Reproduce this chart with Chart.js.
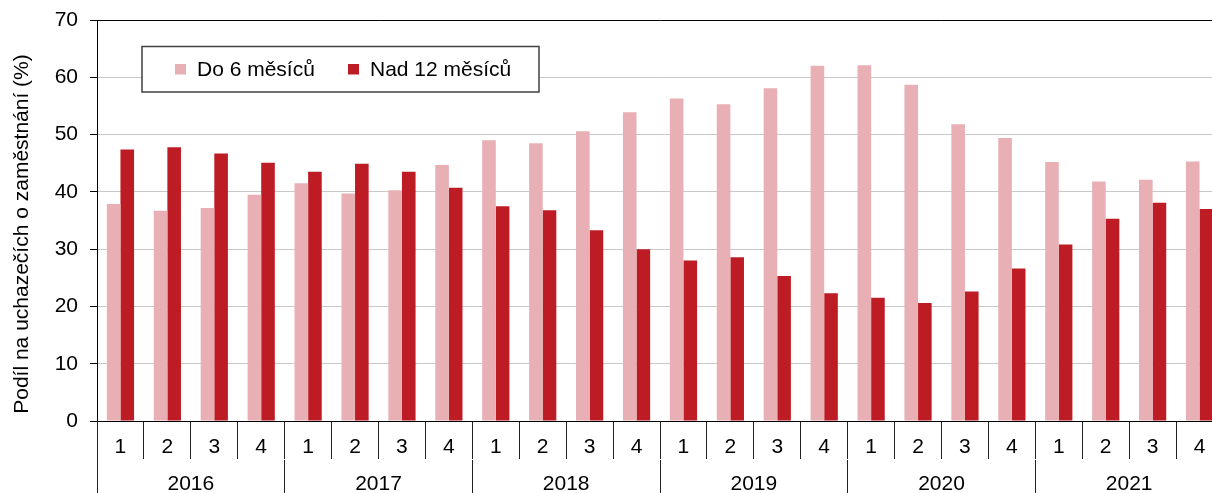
<!DOCTYPE html>
<html>
<head>
<meta charset="utf-8">
<script src="https://cdn.jsdelivr.net/npm/chart.js@4.4.1/dist/chart.umd.min.js"></script>
<style>
    html, body { margin: 0; padding: 0; background: #fff; overflow: hidden; }
    #wrap { position: relative; width: 1224px; height: 499px; }
</style>
</head>
<body>
<div id="wrap"><canvas id="chart"></canvas></div>
<script>
// Data
const years = ["2016", "2017", "2018", "2019", "2020", "2021"];
const quarters = ["1", "2", "3", "4"];
const seriesNames = ["Do 6 měsíců", "Nad 12 měsíců"];
const upTo6 = [37.9, 36.7, 37.2, 39.5, 41.5, 39.7, 40.3, 44.7, 49.0, 48.5, 50.6, 53.9,
               56.3, 55.3, 58.1, 62.0, 62.1, 58.7, 51.8, 49.4, 45.2, 41.8, 42.1, 45.3];
const over12 = [47.4, 47.8, 46.7, 45.1, 43.5, 44.9, 43.5, 40.7, 37.5, 36.8, 33.3, 30.0,
                28.0, 28.6, 25.3, 22.3, 21.5, 20.6, 22.6, 26.6, 30.8, 35.3, 38.1, 37.0];
const yTitle = "Podíl na uchazečích o zaměstnání (%)";

const colors = ["#e8b0b4", "#be1c24"];
const quarterLabels = years.flatMap(() => quarters);
const FONT = "'Liberation Sans', Arial, sans-serif";

Chart.defaults.font.family = FONT;
Chart.defaults.font.size = 21;
Chart.defaults.color = "#000";

// Legend in a framed box inside the plot, plus the y title
const extras = {
    id: "extras",
    afterDraw(chart) {
        const ctx = chart.ctx;
        const area = chart.chartArea;
        ctx.save();

        // left edge line running through both label rows
        ctx.strokeStyle = "#222";
        ctx.lineWidth = 1;
        ctx.beginPath();
        ctx.moveTo(Math.round(area.left) + 0.5, area.bottom);
        ctx.lineTo(Math.round(area.left) + 0.5, chart.height);
        ctx.stroke();

        ctx.strokeStyle = "#404040";
        ctx.lineWidth = 1.5;
        ctx.fillStyle = "#fff";
        ctx.fillRect(142, 46.5, 397, 45.5);
        ctx.strokeRect(142, 46.5, 397, 45.5);
        const items = [{ x: 175, tx: 197 }, { x: 348, tx: 370 }];
        ctx.font = "21px " + FONT;
        ctx.textBaseline = "alphabetic";
        items.forEach((it, i) => {
            ctx.fillStyle = colors[i];
            ctx.fillRect(it.x, 64, 11, 10.5);
            ctx.fillStyle = "#000";
            ctx.fillText(seriesNames[i], it.tx, 75.5);
        });

        // rotated axis title
        ctx.translate(22, 234);
        ctx.rotate(-Math.PI / 2);
        ctx.textAlign = "center";
        ctx.textBaseline = "middle";
        ctx.fillText(yTitle, 0, 0);
        ctx.restore();
    }
};

new Chart(document.getElementById("chart"), {
    type: "bar",
    data: {
        labels: quarterLabels,
        datasets: [
            { label: seriesNames[0], data: upTo6, backgroundColor: colors[0] },
            { label: seriesNames[1], data: over12, backgroundColor: colors[1] }
        ]
    },
    options: {
        responsive: true,
        maintainAspectRatio: false,
        animation: false,
        layout: { padding: { top: 20, right: 1, left: 0, bottom: 0 } },
        datasets: { bar: { categoryPercentage: 0.58, barPercentage: 1.0 } },
        plugins: { legend: { display: false }, tooltip: { enabled: false } },
        scales: {
            x: {
                weight: 0,
                offset: true,
                grid: { offset: true, drawOnChartArea: false, tickLength: 38, color: "#222" },
                border: { color: "#000" },
                ticks: { padding: -24, maxRotation: 0, autoSkip: false },
                afterFit: (s) => { s.height = 38; }
            },
            x2: {
                type: "category",
                position: "bottom",
                weight: 1,
                labels: years,
                offset: true,
                grid: {
                    offset: true,
                    drawOnChartArea: false,
                    tickLength: 42,
                    color: (c) => c.index === 0 ? "rgba(0,0,0,0)" : "#222"
                },
                border: { display: true, color: "rgba(0,0,0,0)" },
                ticks: { padding: -29, maxRotation: 0, autoSkip: false },
                afterFit: (s) => { s.height = 40; }
            },
            y: {
                min: 0,
                max: 70,
                ticks: { stepSize: 10, padding: 12 },
                grid: {
                    tickLength: 7,
                    tickColor: "#000",
                    color: (c) => (c.tick && (c.tick.value === 70 || c.tick.value === 0)) ? "#000" : "#c8c8c8"
                },
                border: { color: "#000" },
                title: { display: false },
                afterFit: (s) => { s.width = 97; s.paddingTop = 0; s.paddingBottom = 0; }
            }
        }
    },
    plugins: [extras]
});
</script>
</body>
</html>
